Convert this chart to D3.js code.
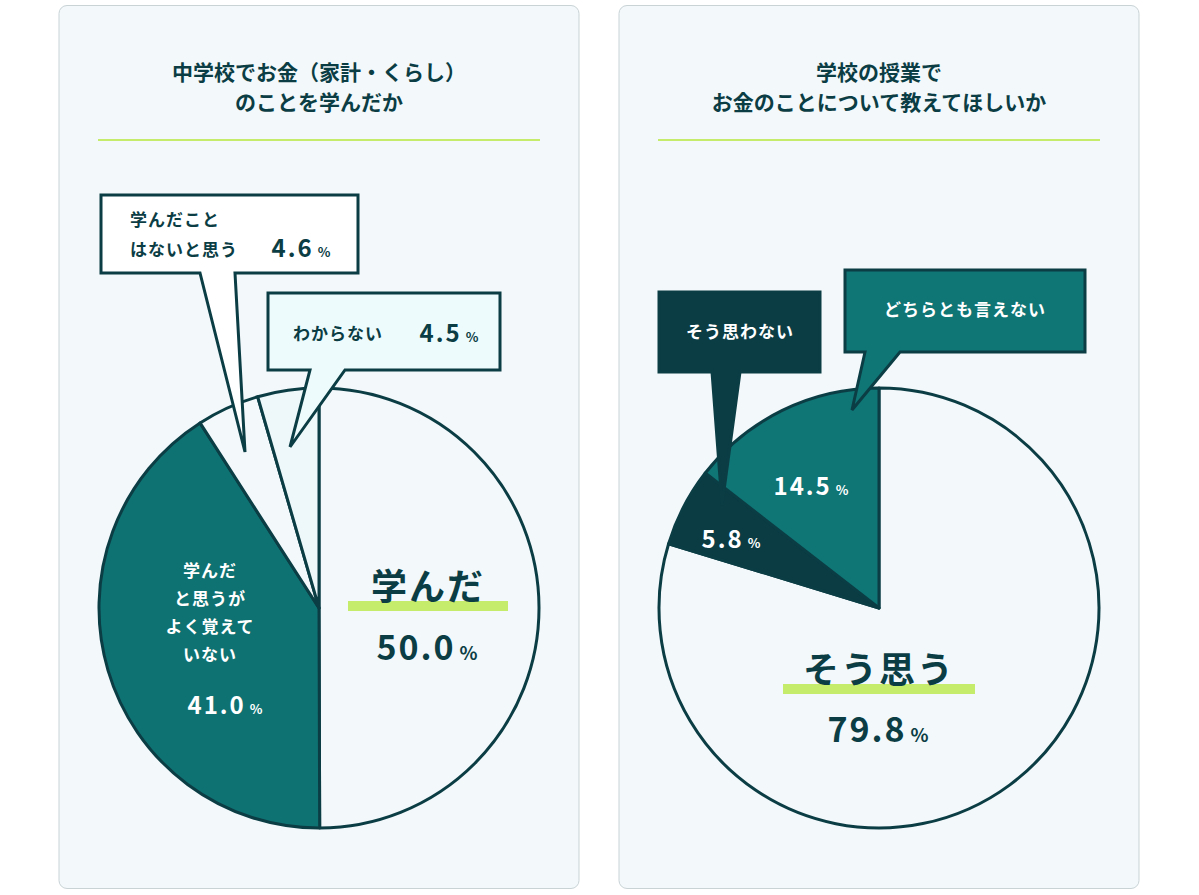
<!DOCTYPE html><html><head><meta charset="utf-8">
<script src="https://cdn.jsdelivr.net/npm/d3@7"></script>
<style>body{margin:0;background:#fff;font-family:"Noto Sans CJK JP","Noto Sans",sans-serif}</style></head><body>
<svg id="c" width="1199" height="895"></svg>
<script>
const leftLabels=["学んだ","学んだと思うがよく覚えていない","学んだことはないと思う","わからない"];
const leftValues=[50.0,41.0,4.6,4.5];
const leftFills=["#f3f8fa","#0f7272","#f3f8fa","#eef8fa"];
const rightLabels=["そう思う","そう思わない","どちらとも言えない"];
const rightValues=[79.8,5.8,14.5];
const rightFills=["#f3f8fa","#0b3c44","#0f7575"];
const dark="#0b3d45", green="#c6ec6c";
const svg=d3.select("#c");
function panel(x,lines){
  svg.append("rect").attr("x",x).attr("y",5.5).attr("width",520).attr("height",883).attr("rx",8)
    .attr("fill","#f3f8fa").attr("stroke","#c9d3d6").attr("stroke-width",1);
  lines.forEach((t,i)=>svg.append("text").attr("x",x+260).attr("y",80+i*30).attr("text-anchor","middle")
    .attr("font-size",21).attr("font-weight",700).attr("fill",dark).text(t));
  svg.append("line").attr("x1",x+39).attr("x2",x+481).attr("y1",140).attr("y2",140).attr("stroke",green).attr("stroke-width",2);
}
panel(59,["中学校でお金（家計・くらし）","のことを学んだか"]);
panel(619,["学校の授業で","お金のことについて教えてほしいか"]);
function pie(cx,vals,fills){
  const arcs=d3.pie().sort(null)(vals);
  const arc=d3.arc().innerRadius(0).outerRadius(220);
  svg.append("g").attr("transform",`translate(${cx},608)`).selectAll("path").data(arcs).join("path")
    .attr("d",arc).attr("fill",(d,i)=>fills[i]).attr("stroke",dark).attr("stroke-width",3).attr("stroke-linejoin","round");
}
function callout(pts,fill){
  svg.append("path").attr("d","M"+pts.map(p=>p.join(",")).join("L")+"Z").attr("fill",fill).attr("stroke",dark).attr("stroke-width",3);
}
function txt(x,y,s,size,col,anchor="middle",w=700){
  return svg.append("text").attr("x",x).attr("y",y).attr("text-anchor",anchor).attr("font-size",size).attr("font-weight",w).attr("fill",col).attr("letter-spacing",size>20?2:1).text(s);
}
function pct(x,y,v,size,col){
  const t=svg.append("text").attr("x",x).attr("y",y).attr("text-anchor","middle").attr("font-weight",700).attr("fill",col).attr("letter-spacing",2);
  t.append("tspan").attr("font-size",size).text(v.toFixed(1));
  t.append("tspan").attr("font-size",size*0.55).attr("dx",4).text("%");
}
pie(319,leftValues,leftFills);
pie(879,rightValues,rightFills);
// left callouts
callout([[101,195],[358,195],[358,273],[235,273],[245,452],[200,273],[101,273]],"#fff");
callout([[268,293],[500,293],[500,370],[345,370],[290,447],[310,370],[268,370]],"#eefbfc");
txt(130,226,"学んだこと",17,dark,"start");
txt(130,256,"はないと思う",17,dark,"start");
pct(302,257,leftValues[2],24,dark);
txt(293,340,"わからない",17,dark,"start");
pct(450,342,leftValues[3],24,dark);
svg.append("rect").attr("x",348).attr("y",601).attr("width",160).attr("height",10).attr("fill",green);
txt(428,600,"学んだ",36,dark);
pct(428,660,leftValues[0],34,dark);
["学んだ","と思うが","よく覚えて","いない"].forEach((s,i)=>txt(210,577+i*28,s,17,"#fff"));
pct(226,714,leftValues[1],24,"#fff");
// right callouts
callout([[659,292],[820,292],[820,372],[740,372],[722,505],[712,372],[659,372]],dark);
callout([[845,270],[1085,270],[1085,352],[900,352],[852,410],[865,352],[845,352]],"#0f7575");
txt(740,338,"そう思わない",17,"#fff");
txt(965,316,"どちらとも言えない",17,"#fff");
pct(812,495,rightValues[2],24,"#fff");
pct(732,548,rightValues[1],24,"#fff");
svg.append("rect").attr("x",783).attr("y",684).attr("width",192).attr("height",10).attr("fill",green);
txt(879,683,"そう思う",36,dark);
pct(879,742,rightValues[0],34,dark);
</script></body></html>
